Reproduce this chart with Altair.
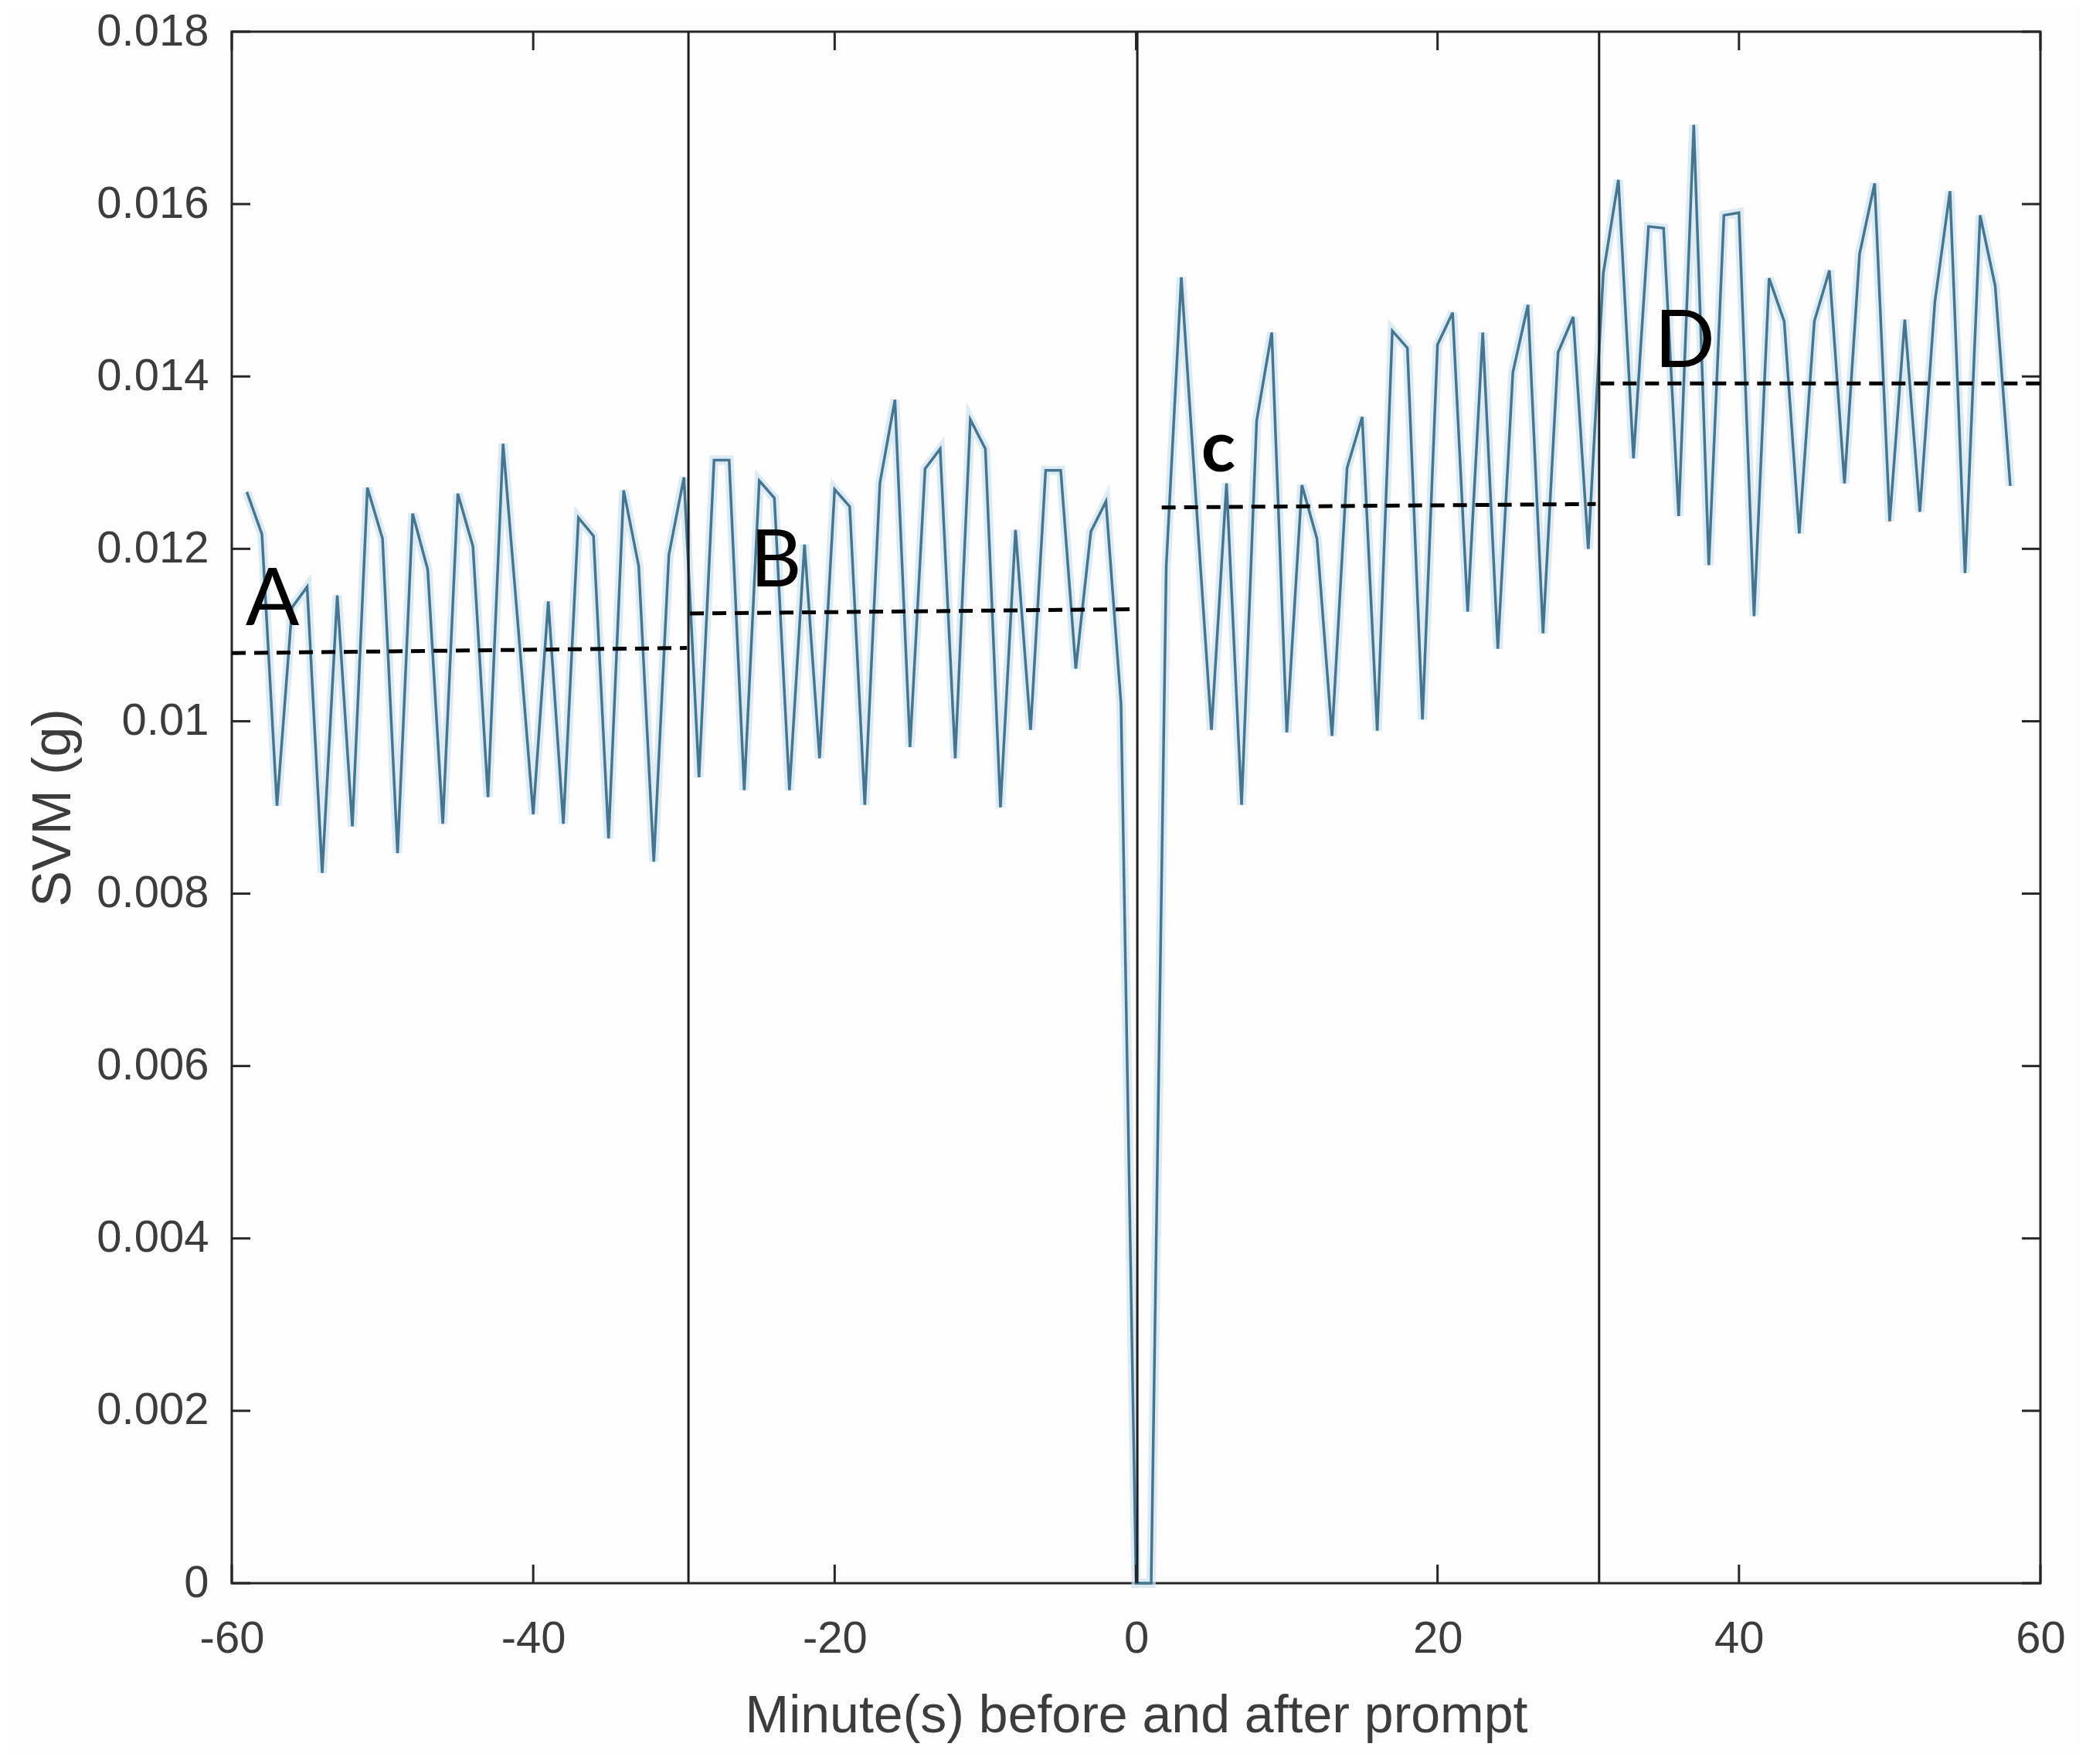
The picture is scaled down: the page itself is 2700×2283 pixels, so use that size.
import altair as alt
import pandas as pd

# minutes relative to the prompt, one sample per minute
minutes = list(range(-59, 59))

# SVM (g)
svm = [
    0.01266, 0.01217, 0.00902, 0.01132, 0.01156, 0.00824, 0.01146, 0.00878, 0.01271, 0.01212,
    0.00847, 0.01241, 0.01176, 0.00881, 0.01264, 0.01203, 0.00912, 0.01322, 0.01110, 0.00892,
    0.01139, 0.00881, 0.01236, 0.01215, 0.00864, 0.01268, 0.01180, 0.00837, 0.01193, 0.01283,
    0.00935, 0.01303, 0.01303, 0.00920, 0.01279, 0.01259, 0.00920, 0.01205, 0.00957, 0.01269,
    0.01249, 0.00903, 0.01276, 0.01373, 0.00970, 0.01293, 0.01316, 0.00957, 0.01350, 0.01316,
    0.00900, 0.01222, 0.00990, 0.01291, 0.01291, 0.01061, 0.01220, 0.01255, 0.01020, 0.0,
    0.0, 0.01180, 0.01515, 0.01250, 0.00990, 0.01276, 0.00903, 0.01349, 0.01451, 0.00987,
    0.01274, 0.01212, 0.00983, 0.01294, 0.01353, 0.00989, 0.01453, 0.01433, 0.01002, 0.01437,
    0.01474, 0.01127, 0.01451, 0.01084, 0.01405, 0.01483, 0.01102, 0.01428, 0.01469, 0.01200,
    0.01520, 0.01628, 0.01305, 0.01574, 0.01572, 0.01238, 0.01692, 0.01181, 0.01587, 0.01590,
    0.01122, 0.01514, 0.01464, 0.01218, 0.01464, 0.01523, 0.01276, 0.01542, 0.01624, 0.01232,
    0.01466, 0.01243, 0.01487, 0.01615, 0.01172, 0.01587, 0.01505, 0.01273,
]

# hand drawn phase boundaries
boundaries = [-29.7, 0.08, 30.72]

# dashed phase means (start, end)
seg_x1 = [-60.0, -29.6, 1.7, 30.8]
seg_x2 = [-29.8, -0.1, 30.5, 60.0]
seg_y1 = [0.01079, 0.01125, 0.01248, 0.01392]
seg_y2 = [0.01085, 0.01130, 0.01252, 0.01392]

# phase letters
letters = ["A", "B", "D"]
letter_x = [-57.3, -23.9, 36.4]
letter_y = [0.01139, 0.01184, 0.01439]
letter_c_x = [5.45]
letter_c_y = [0.01315]

x_ticks = [-60, -40, -20, 0, 20, 40, 60]
y_ticks = [0, 0.002, 0.004, 0.006, 0.008, 0.01, 0.012, 0.014, 0.016, 0.018]

W, H = 2341, 2008
FONT = "Liberation Sans"
TXT = "#3c3c3c"
TL = 24  # inward tick length

df = pd.DataFrame({"t": minutes, "svm": svm})
df_seg = pd.DataFrame({"x1": seg_x1, "x2": seg_x2, "y1": seg_y1, "y2": seg_y2})

x_scale = alt.Scale(domain=[-60, 60], nice=False, zero=False)
y_scale = alt.Scale(domain=[0, 0.018], nice=False)

x_enc = alt.X(
    "t:Q", scale=x_scale, title="Minute(s) before and after prompt",
    axis=alt.Axis(
        values=x_ticks, labelExpr="datum.value + ''", ticks=False, domain=False, grid=False,
        labelFlush=False, labelOverlap=False,
        labelFontSize=58, labelFont=FONT, labelColor=TXT, labelBaseline="middle", labelPadding=72,
        titleFontSize=68, titleFont=FONT, titleColor=TXT, titleFontWeight="normal",
        titleY=172, titleBaseline="middle",
    ),
)
y_enc = alt.Y(
    "svm:Q", scale=y_scale, title="SVM (g)",
    axis=alt.Axis(
        values=y_ticks, labelExpr="datum.value + ''", ticks=False, domain=False, grid=False,
        labelFlush=False, labelOverlap=False,
        labelFontSize=58, labelFont=FONT, labelColor=TXT, labelPadding=30,
        titleFontSize=70, titleFont=FONT, titleColor=TXT, titleFontWeight="normal",
        titleX=-231, titleBaseline="middle", titleAngle=-90,
    ),
)

# soft blue halo under the trace, like the blurred original
halo = alt.Chart(df).mark_line(color="#cfe4f0", strokeWidth=12, opacity=0.7).encode(x=x_enc, y=y_enc)
trace = alt.Chart(df).mark_line(color="#467590", strokeWidth=3.5).encode(x="t:Q", y="svm:Q")

vlines = alt.Chart(pd.DataFrame({"t": boundaries})).mark_rule(color="#1e1e1e", strokeWidth=3).encode(
    x="t:Q"
)

dashes = alt.Chart(df_seg).mark_rule(color="black", strokeWidth=5, strokeDash=[18, 11]).encode(
    x="x1:Q", x2="x2:Q", y="y1:Q", y2="y2:Q"
)

txt = alt.Chart(pd.DataFrame({"lab": letters, "x": letter_x, "y": letter_y})).mark_text(
    font="Lato", fontSize=103, color="black", align="center", baseline="middle"
).encode(x="x:Q", y="y:Q", text="lab:N")

txt_c = alt.Chart(pd.DataFrame({"lab": ["c"], "x": letter_c_x, "y": letter_c_y})).mark_text(
    font="Lato", fontSize=92, fontWeight="bold", color="black", align="center", baseline="middle"
).encode(x="x:Q", y="y:Q", text="lab:N")

# inward MATLAB style ticks on all four sides
ydf = pd.DataFrame({"v": y_ticks})
xdf = pd.DataFrame({"v": x_ticks})
tick_col = "#262626"
yt_left = alt.Chart(ydf).mark_rule(color=tick_col, strokeWidth=3).encode(
    y="v:Q", x=alt.value(0), x2=alt.value(TL))
yt_right = alt.Chart(ydf).mark_rule(color=tick_col, strokeWidth=3).encode(
    y="v:Q", x=alt.value(W - TL), x2=alt.value(W))
xt_bot = alt.Chart(xdf).mark_rule(color=tick_col, strokeWidth=3).encode(
    x="v:Q", y=alt.value(H - TL), y2=alt.value(H))
xt_top = alt.Chart(xdf).mark_rule(color=tick_col, strokeWidth=3).encode(
    x="v:Q", y=alt.value(0), y2=alt.value(TL))

chart = alt.layer(
    halo, trace, vlines, dashes, txt, txt_c, yt_left, yt_right, xt_bot, xt_top
).properties(
    width=W, height=H,
    autosize=alt.AutoSizeParams(type="none"),
    padding={"left": 292, "top": 33, "right": 50, "bottom": 220},
    background="#fdfdfd",
).configure_view(
    stroke="#262626", strokeWidth=3
)

chart.save("out.html", embed_options={"renderer": "svg", "actions": False})
